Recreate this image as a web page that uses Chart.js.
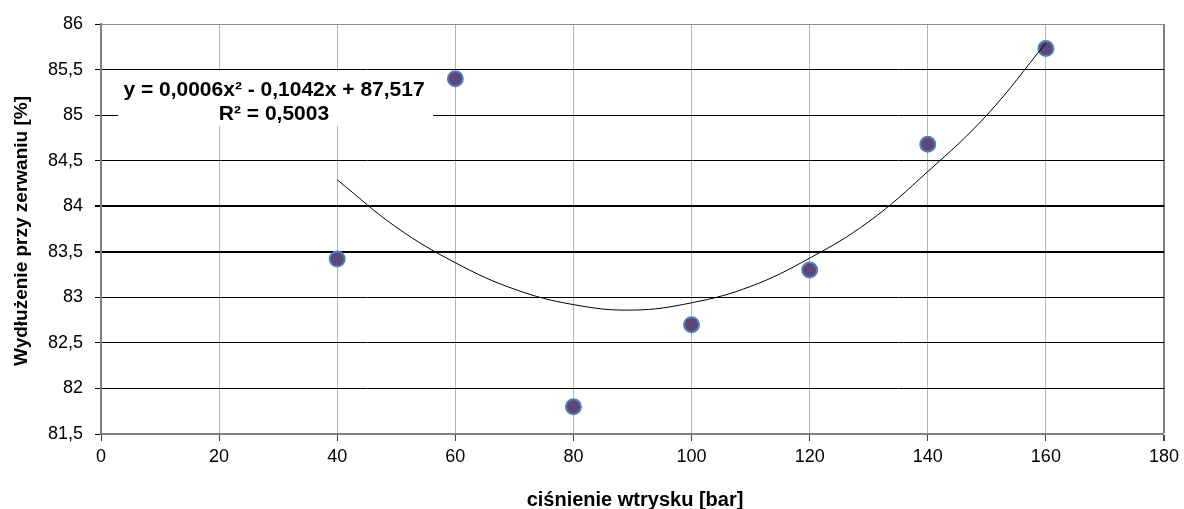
<!DOCTYPE html>
<html>
<head>
<meta charset="utf-8">
<script src="https://cdn.jsdelivr.net/npm/chart.js@4.4.0/dist/chart.umd.min.js"></script>
<style>
  body { margin: 0; background: #fff; }
</style>
</head>
<body>
<canvas id="elongChart" width="1184" height="509"></canvas>
<script>
// measured points: injection pressure [bar] vs elongation at break [%]
const pressure = [40, 60, 80, 100, 120, 140, 160];
const elongation = [83.42, 85.40, 81.80, 82.70, 83.30, 84.68, 85.73];

// polynomial trendline
const trendX = [40, 50, 60, 70, 80, 90, 100, 110, 120, 130, 140, 150, 160];
const trendY = [84.29, 83.77, 83.38, 83.09, 82.92, 82.86, 82.94, 83.12, 83.43, 83.83, 84.38, 85.00, 85.79];

const xTitle = 'ciśnienie wtrysku [bar]';
const yTitle = 'Wydłużenie przy zerwaniu [%]';
const trendLabel = ['y = 0,0006x² - 0,1042x + 87,517', 'R² = 0,5003'];

const FONT = '"Liberation Sans", Arial, sans-serif';

// equation box + axis titles drawn by hand so they sit where Excel put them
const labelsPlugin = {
    id: 'labels',
    beforeDatasetsDraw(chart) {
        const ctx = chart.ctx;
        ctx.save();
        ctx.fillStyle = '#fff';
        ctx.fillRect(118, 71, 315, 55);
        ctx.fillStyle = '#000';
        ctx.font = 'bold 21px ' + FONT;
        ctx.textAlign = 'center';
        ctx.textBaseline = 'alphabetic';
        ctx.fillText(trendLabel[0], 274, 96);
        ctx.fillText(trendLabel[1], 274, 120);
        ctx.restore();
    },
    afterDraw(chart) {
        const ctx = chart.ctx;
        ctx.save();
        ctx.fillStyle = '#000';
        ctx.font = 'bold 20px ' + FONT;
        ctx.textAlign = 'center';
        ctx.textBaseline = 'alphabetic';
        ctx.fillText(xTitle, 635, 506);
        ctx.translate(27, 231);
        ctx.rotate(-Math.PI / 2);
        ctx.font = 'bold 19px ' + FONT;
        ctx.fillText(yTitle, 0, 0);
        ctx.restore();
    }
};

const ctx = document.getElementById('elongChart').getContext('2d');
const chart = new Chart(ctx, {
    type: 'scatter',
    data: {
        datasets: [{
            label: 'trend',
            data: trendX.map((x, i) => ({ x: x, y: trendY[i] })),
            showLine: true,
            borderColor: '#000',
            borderWidth: 1,
            pointRadius: 0,
            tension: 0.4,
            order: 1
        }, {
            label: 'pomiar',
            data: pressure.map((x, i) => ({ x: x, y: elongation[i] })),
            backgroundColor: '#5e4679',
            borderColor: '#4f81bd',
            borderWidth: 2,
            pointRadius: 7.5,
            order: 2
        }]
    },
    options: {
        responsive: false,
        animation: false,
        layout: { padding: { top: 24, right: 16, left: 0, bottom: 0 } },
        plugins: {
            legend: { display: false },
            tooltip: { enabled: false }
        },
        scales: {
            x: {
                type: 'linear',
                min: 0,
                max: 180,
                ticks: {
                    stepSize: 20,
                    color: '#000',
                    padding: 5,
                    font: { family: FONT, size: 18 }
                },
                grid: {
                    color: c => c.tick && c.tick.value === 180 ? '#808080' : '#b4b4b4',
                    lineWidth: c => c.tick && c.tick.value === 180 ? 2 : 1,
                    tickColor: '#404040',
                    tickLength: 7
                },
                border: { color: '#808080', width: 2 },
                afterFit: scale => { scale.height = 75; }
            },
            y: {
                min: 81.5,
                max: 86,
                ticks: {
                    stepSize: 0.5,
                    color: '#000',
                    padding: 12,
                    font: { family: FONT, size: 18 },
                    callback: v => String(v).replace('.', ',')
                },
                grid: {
                    color: c => c.tick && c.tick.value === 86 ? '#8c8c8c' : '#000',
                    lineWidth: c => c.tick && (c.tick.value === 84 || c.tick.value === 83.5) ? 2 : 1,
                    tickColor: '#000',
                    tickLength: 6
                },
                border: { color: '#808080', width: 2 },
                afterFit: scale => { scale.width = 101; }
            }
        }
    },
    plugins: [labelsPlugin]
});
</script>
</body>
</html>
